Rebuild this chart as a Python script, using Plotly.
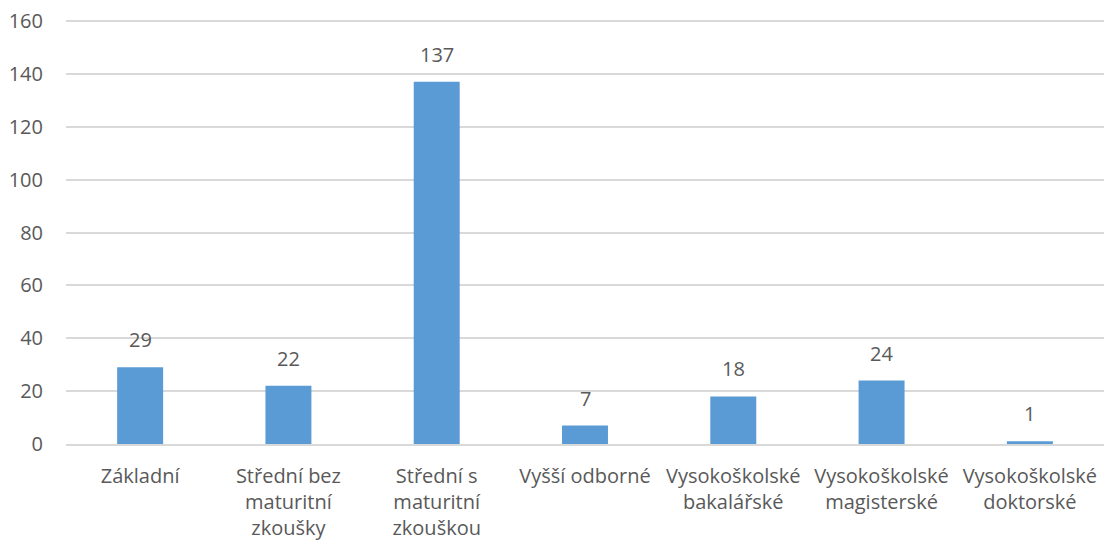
import plotly.graph_objects as go

categories = ["Základní", "Střední bez<br>maturitní<br>zkoušky", "Střední s<br>maturitní<br>zkouškou",
              "Vyšší odborné", "Vysokoškolské<br>bakalářské", "Vysokoškolské<br>magisterské",
              "Vysokoškolské<br>doktorské"]
values = [29, 22, 137, 7, 18, 24, 1]
y_ticks = [0, 20, 40, 60, 80, 100, 120, 140, 160]
y_max = 160.4

font_family = "Open Sans, Liberation Sans, sans-serif"
text_color = "#595959"

fig = go.Figure()
fig.add_trace(go.Bar(x=categories, y=values, marker=dict(color="#5B9BD5", line=dict(width=0)),
                     hoverinfo="skip"))

for c, v in zip(categories, values):
    fig.add_annotation(x=c, y=v, text=str(v), showarrow=False, yanchor="bottom",
                       yshift=12, font=dict(family=font_family, size=20, color=text_color))

fig.update_layout(
    width=1104, height=540,
    margin=dict(l=66, r=0, t=20, b=96, autoexpand=False),
    paper_bgcolor="white", plot_bgcolor="white",
    bargap=0.69,
    showlegend=False,
    font=dict(family=font_family, size=20, color=text_color),
)
fig.update_xaxes(showgrid=False, showline=True, linecolor="#d9d9d9", linewidth=1.5,
                 ticks="", ticklabelstandoff=13, automargin=False,
                 tickfont=dict(size=20, color=text_color))
fig.update_yaxes(range=[0, y_max], tickvals=y_ticks, showgrid=True, gridcolor="#d9d9d9",
                 gridwidth=1.5, zeroline=False, showline=False, ticks="", automargin=False,
                 ticklabelstandoff=22, tickfont=dict(size=20, color=text_color))

fig.write_html("out.html", config={"displayModeBar": False},
               post_script="document.body.style.margin='0';document.body.style.overflow='hidden';")
